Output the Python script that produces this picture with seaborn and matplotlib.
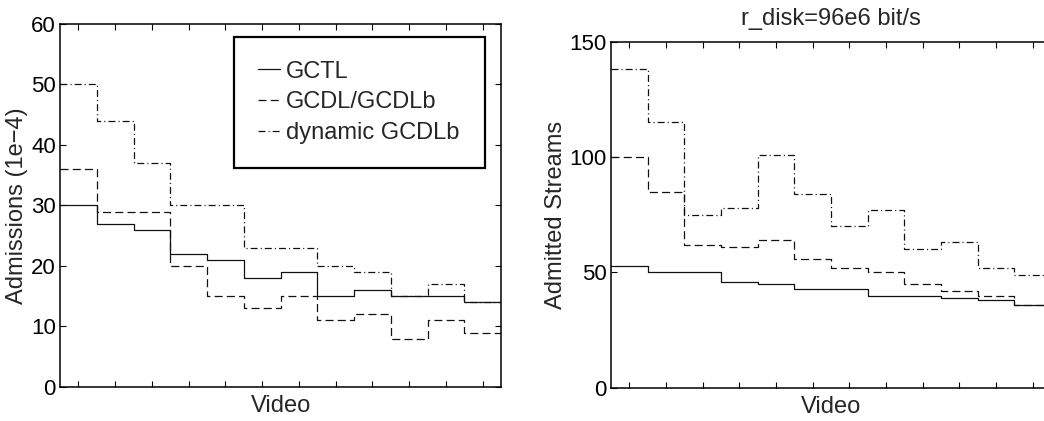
import numpy as np
import pandas as pd
import matplotlib
matplotlib.use("Agg")
import matplotlib.pyplot as plt
import seaborn as sns
from matplotlib.lines import Line2D

# ---- data ----
videos = list(range(1, 13))
series_names = ["GCTL", "GCDL/GCDLb", "dynamic GCDLb"]

left_gctl = [30, 27, 26, 22, 21, 18, 19, 15, 16, 15, 15, 14]
left_gcdl = [36, 29, 29, 20, 15, 13, 15, 11, 12, 8, 11, 9]
left_dyn = [50, 44, 37, 30, 30, 23, 23, 20, 19, 15, 17, 14]

right_gctl = [53, 50, 50, 46, 45, 43, 43, 40, 40, 39, 38, 36]
right_gcdl = [100, 85, 62, 61, 64, 56, 52, 50, 45, 42, 40, 36]
right_dyn = [138, 115, 75, 78, 101, 84, 70, 77, 60, 63, 52, 49]

left_yticks = [0, 10, 20, 30, 40, 50, 60]
right_yticks = [0, 50, 100, 150]

left_ylabel = "Admissions (1e\u22124)"
right_ylabel = "Admitted Streams"
xlabel = "Video"
right_title = "r_disk=96e6 bit/s"

# ---- style ----
sns.set_style("ticks")
plt.rcParams["font.family"] = ["Liberation Sans", "DejaVu Sans"]
plt.rcParams["lines.scale_dashes"] = False
plt.rcParams["axes.linewidth"] = 1.0

FS = 17
TFS = 16
dash_map = {
    "GCTL": "",
    "GCDL/GCDLb": (5.8, 3.0),
    "dynamic GCDLb": (5.0, 2.2, 0.8, 2.2),
}


def long_frame(vals_list):
    rows = []
    for name, vals in zip(series_names, vals_list):
        edges = np.array(videos, dtype=float) - 0.5
        xs = list(edges) + [videos[-1] + 0.5]
        ys = list(vals) + [vals[-1]]
        for x, y in zip(xs, ys):
            rows.append({"x": x, "y": y, "series": name})
    return pd.DataFrame(rows)


def style_axes(ax, yticks, ylim):
    ax.set_xlim(videos[0] - 0.5, videos[-1] + 0.5)
    ax.set_ylim(*ylim)
    ax.set_xticks(videos)
    ax.set_xticklabels([])
    ax.set_yticks(yticks)
    ax.tick_params(direction="in", length=4, width=0.8, top=True,
                   right=True, labelsize=TFS, pad=3, colors="black")
    for s in ax.spines.values():
        s.set_visible(True)
        s.set_color("black")
        s.set_linewidth(1.1)
    ax.set_xlabel(xlabel, fontsize=FS, labelpad=3)


fig = plt.figure(figsize=(10.44, 4.21), dpi=100)
axL = fig.add_axes([0.0575, 0.0808, 0.4224, 0.8622])
axR = fig.add_axes([0.5852, 0.0784, 0.4215, 0.823])

dfL = long_frame([left_gctl, left_gcdl, left_dyn])
dfR = long_frame([right_gctl, right_gcdl, right_dyn])

for ax, df in [(axL, dfL), (axR, dfR)]:
    sns.lineplot(data=df, x="x", y="y", style="series", dashes=dash_map,
                 color="#111111", linewidth=0.9, drawstyle="steps-post",
                 estimator=None, sort=False, legend=False, ax=ax)

style_axes(axL, left_yticks, (0, 60))
style_axes(axR, right_yticks, (0, 150))
axL.set_ylabel(left_ylabel, fontsize=FS, labelpad=2)
axR.set_ylabel(right_ylabel, fontsize=FS, labelpad=2)
axR.set_title(right_title, fontsize=FS, pad=12)

handles = []
for name in series_names:
    h = Line2D([], [], color="#111111", linewidth=0.9)
    if dash_map[name]:
        h.set_dashes(dash_map[name])
    handles.append(h)

x0 = (234 - 60) / 441
w = (485 - 234) / 441
y1 = (387 - 37) / 363
leg = axL.legend(handles, series_names, loc="upper left",
                 bbox_to_anchor=(x0, y1 - 0.5, w, 0.5), mode="expand",
                 borderaxespad=0, fontsize=FS, frameon=True, fancybox=False,
                 handlelength=0.95, handletextpad=0.25, labelspacing=0.37,
                 borderpad=1.0)
fr = leg.get_frame()
fr.set_edgecolor("black")
fr.set_linewidth(1.6)
fr.set_alpha(1)

fig.savefig("out.png", dpi=100)
